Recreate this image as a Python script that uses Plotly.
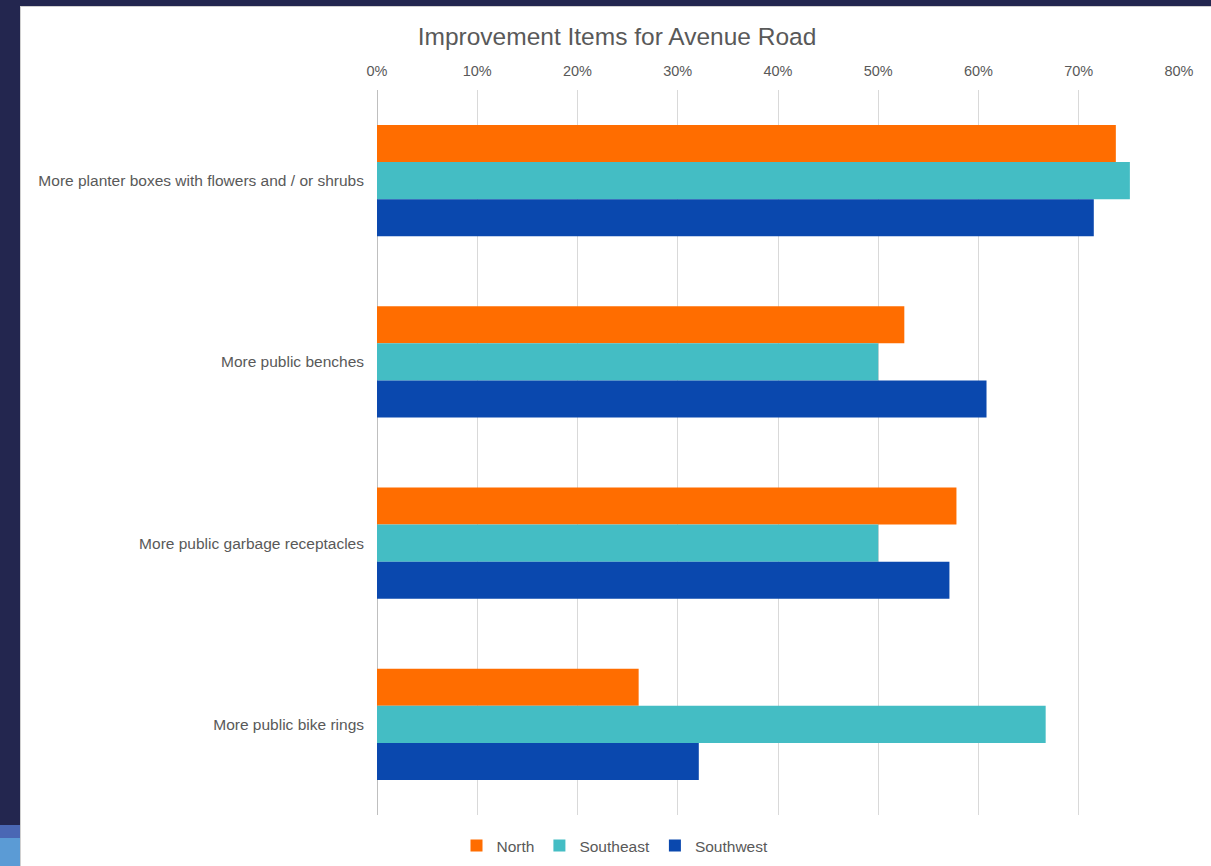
import plotly.graph_objects as go

categories = [
    "More planter boxes with flowers and / or shrubs",
    "More public benches",
    "More public garbage receptacles",
    "More public bike rings",
]
series_names = ["North", "Southeast", "Southwest"]
north = [73.7, 52.6, 57.8, 26.1]
southeast = [75.1, 50.0, 50.0, 66.7]
southwest = [71.5, 60.8, 57.1, 32.1]
colors = ["#FF6D00", "#44BDC4", "#0A48AE"]
tick_vals = [0, 10, 20, 30, 40, 50, 60, 70, 80]
tick_labels = ["0%", "10%", "20%", "30%", "40%", "50%", "60%", "70%", "80%"]

W, H = 1211, 866
font_family = "Liberation Sans, Arial, sans-serif"
grey = "#595959"

fig = go.Figure()
for name, vals, col in zip(series_names, [north, southeast, southwest], colors):
    fig.add_trace(go.Bar(
        y=categories, x=vals, name=name, orientation="h",
        marker=dict(color=col, line=dict(width=0)),
    ))

x0, x1 = 377 / W, 1179 / W
y_top, y_bot = 90, 815

fig.update_layout(
    width=W, height=H, autosize=False,
    margin=dict(l=0, r=0, t=0, b=0, autoexpand=False),
    paper_bgcolor="white", plot_bgcolor="white",
    barmode="group", bargap=0.385, bargroupgap=0,
    font=dict(family=font_family, color=grey, size=14),
    title=dict(text="Improvement Items for Avenue Road", x=617 / W, xanchor="center",
               y=1 - 36 / H, yanchor="middle", font=dict(size=24.5, color=grey)),
    xaxis=dict(domain=[x0, x1], range=[0, 80], side="top", tickmode="array",
               tickvals=tick_vals, ticktext=tick_labels, automargin=False,
               showgrid=True, gridcolor="#D9D9D9", gridwidth=1,
               zeroline=True, zerolinecolor="#BFBFBF", zerolinewidth=1,
               showline=False, ticks="", ticklabelstandoff=10,
               tickfont=dict(size=14.5, color=grey), fixedrange=True),
    yaxis=dict(domain=[(H - y_bot) / H, (H - y_top) / H], autorange="reversed",
               automargin=False,
               showgrid=False, showline=False, ticks="", ticklabelstandoff=12,
               tickfont=dict(size=15.5, color=grey)),
    legend=dict(orientation="h", x=615 / W, xanchor="center", y=1 - 846 / H,
                yanchor="middle", font=dict(size=15.5, color=grey),
                itemwidth=30, traceorder="normal", bgcolor="rgba(0,0,0,0)"),
    showlegend=True,
)

navy = "#23264F"
shapes = [
    dict(type="rect", xref="paper", yref="paper", x0=0, x1=20 / W, y0=0, y1=1,
         fillcolor=navy, line=dict(width=0), layer="above"),
    dict(type="rect", xref="paper", yref="paper", x0=0, x1=1, y0=1 - 6 / H, y1=1,
         fillcolor=navy, line=dict(width=0), layer="above"),
    dict(type="rect", xref="paper", yref="paper", x0=0, x1=20 / W,
         y0=1 - 838 / H, y1=1 - 825 / H, fillcolor="#4A67B4", line=dict(width=0), layer="above"),
    dict(type="rect", xref="paper", yref="paper", x0=0, x1=20 / W,
         y0=0, y1=1 - 838 / H, fillcolor="#5B9BD5", line=dict(width=0), layer="above"),
    dict(type="line", xref="paper", yref="paper", x0=20.5 / W, x1=20.5 / W, y0=0, y1=1 - 6 / H,
         line=dict(color="#D0D0D0", width=1), layer="above"),
    dict(type="line", xref="paper", yref="paper", x0=20 / W, x1=1, y0=1 - 6.5 / H, y1=1 - 6.5 / H,
         line=dict(color="#D0D0D0", width=1), layer="above"),
]
fig.update_layout(shapes=shapes)

fig.write_html(
    "out.html",
    config={"responsive": False, "displayModeBar": False},
    post_script="document.body.style.margin='0';document.body.style.overflow='hidden';",
)
